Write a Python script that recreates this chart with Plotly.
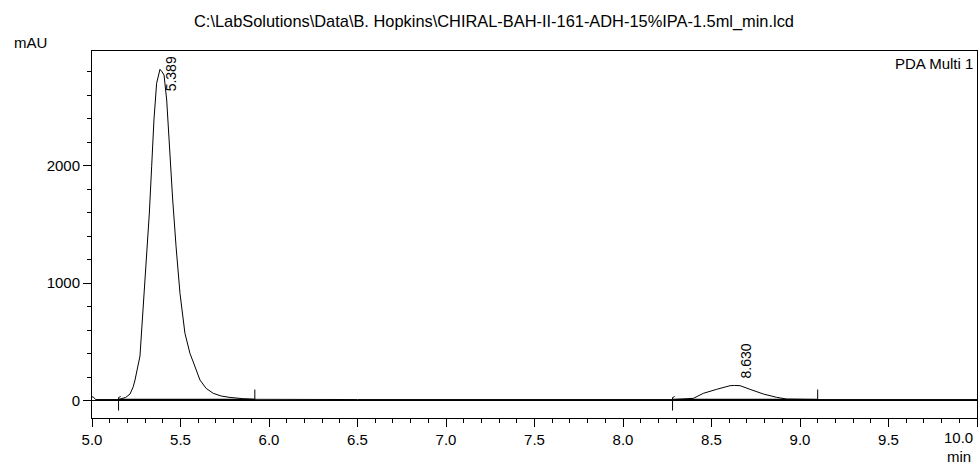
import plotly.graph_objects as go

# ---- data ----
time_min = [5.00, 5.01, 5.02, 5.10, 5.15, 5.19, 5.215, 5.233, 5.243, 5.271, 5.29, 5.309,
            5.324, 5.337, 5.35, 5.365, 5.384, 5.395, 5.407, 5.422, 5.437, 5.456, 5.475,
            5.497, 5.525, 5.554, 5.572, 5.61, 5.645, 5.685, 5.73, 5.78, 5.85, 5.92,
            6.50, 7.50, 8.28, 8.397, 8.454, 8.529, 8.605, 8.63, 8.661, 8.718, 8.793,
            8.868, 8.925, 9.10, 10.00]
absorbance = [35, 28, 10, 8, 10, 28, 57, 119, 176, 380, 800, 1197,
              1597, 1991, 2389, 2701, 2820, 2800, 2772, 2559, 2162, 1708, 1311,
              914, 574, 400, 330, 176, 105, 63, 40, 28, 18, 12,
              10, 10, 10, 20, 63, 97, 128, 130, 128, 97, 57,
              29, 14, 10, 10]

peak_rt = [5.389, 8.630]
peak_height = [2820, 130]
peak_labels = ["5.389", "8.630"]
peak_start = [5.15, 8.28]
peak_end = [5.92, 9.10]
baseline_level = [10, 10]

x_tick_vals = [5.0, 5.5, 6.0, 6.5, 7.0, 7.5, 8.0, 8.5, 9.0, 9.5, 10.0]
x_tick_text = ["5.0", "5.5", "6.0", "6.5", "7.0", "7.5", "8.0", "8.5", "9.0", "9.5", "10.0"]
y_tick_vals = [0, 1000, 2000]
y_tick_text = ["0", "1000", "2000"]

title_text = "C:\\LabSolutions\\Data\\B. Hopkins\\CHIRAL-BAH-II-161-ADH-15%IPA-1.5ml_min.lcd"
channel_text = "PDA Multi 1"
x_range = [5.0, 10.0]
y_range = [-147, 2976]

FONT = "Liberation Sans, Arial, sans-serif"

fig = go.Figure()

# chromatogram trace
fig.add_trace(go.Scatter(x=time_min, y=absorbance, mode="lines",
                         line=dict(color="black", width=1), hoverinfo="skip",
                         showlegend=False))

# integration baselines
for s, e, b in zip(peak_start, peak_end, baseline_level):
    fig.add_trace(go.Scatter(x=[s, e], y=[b, b], mode="lines",
                             line=dict(color="black", width=1.5),
                             showlegend=False, hoverinfo="skip"))

shapes = []
# start / end markers (pixel-sized ticks anchored at baseline)
for s, b in zip(peak_start, baseline_level):
    shapes.append(dict(type="line", xref="x", yref="y", ysizemode="pixel",
                       yanchor=b, x0=s, x1=s, y0=2, y1=-11,
                       line=dict(color="black", width=1)))
    shapes.append(dict(type="line", xref="x", yref="y", ysizemode="pixel",
                       yanchor=b, x0=s, x1=s + 0.012, y0=2, y1=3,
                       line=dict(color="black", width=1)))
for e, b in zip(peak_end, baseline_level):
    shapes.append(dict(type="line", xref="x", yref="y", ysizemode="pixel",
                       yanchor=b, x0=e, x1=e, y0=-1, y1=10,
                       line=dict(color="black", width=1)))

annotations = []
for rt, h, lab in zip(peak_rt, peak_height, peak_labels):
    if h > 2500:
        annotations.append(dict(x=rt, y=1, xref="x", yref="paper", text=lab,
                                textangle=-90, showarrow=False, xanchor="center",
                                yanchor="top", xshift=10, yshift=-3,
                                font=dict(family=FONT, size=14, color="black")))
    else:
        annotations.append(dict(x=rt, y=h, xref="x", yref="y", text=lab,
                                textangle=-90, showarrow=False, xanchor="center",
                                yanchor="bottom", xshift=11, yshift=5,
                                font=dict(family=FONT, size=14, color="black")))

# last x tick label is drawn pulled inside the window, as in the reference
annotations.append(dict(x=x_tick_vals[-1], y=-0.0518, xref="x", yref="paper",
                        text=x_tick_text[-1], showarrow=False, xanchor="right",
                        yanchor="middle", xshift=-2,
                        font=dict(family=FONT, size=15, color="black")))
x_tick_shown = x_tick_text[:-1] + [""]

annotations += [
    dict(x=-0.0904, y=1.0245, xref="paper", yref="paper", text="mAU",
         showarrow=False, xanchor="left", yanchor="middle",
         font=dict(family=FONT, size=15, color="black")),
    dict(x=0.9955, y=-0.106, xref="paper", yref="paper", text="min",
         showarrow=False, xanchor="right", yanchor="middle",
         font=dict(family=FONT, size=15, color="black")),
    dict(x=0.9977, y=0.9646, xref="paper", yref="paper", text=channel_text,
         showarrow=False, xanchor="right", yanchor="middle",
         font=dict(family=FONT, size=15, color="black")),
]

fig.update_layout(
    width=979, height=465,
    margin=dict(l=92, r=2, t=51, b=47),
    paper_bgcolor="white", plot_bgcolor="white",
    font=dict(family=FONT, size=15, color="black"),
    title=dict(text=title_text, x=494 / 979, xanchor="center", xref="container",
               y=1 - 21 / 465, yanchor="middle", yref="container",
               font=dict(family=FONT, size=16.4, color="black")),
    shapes=shapes, annotations=annotations,
    showlegend=False,
)

fig.update_xaxes(range=x_range, tickmode="array", tickvals=x_tick_vals,
                 ticktext=x_tick_shown,
                 ticks="outside", ticklen=8, tickwidth=1, tickcolor="black",
                 showline=True, linecolor="black", linewidth=1, mirror=True,
                 showgrid=False, zeroline=False,
                 minor=dict(dtick=0.1, tick0=5.0, ticks="outside", ticklen=4,
                            tickcolor="black", showgrid=False),
                 tickfont=dict(family=FONT, size=15, color="black"))
fig.update_yaxes(range=y_range, tickmode="array", tickvals=y_tick_vals,
                 ticktext=y_tick_text,
                 ticks="outside", ticklen=8, tickwidth=1, tickcolor="black",
                 showline=True, linecolor="black", linewidth=1, mirror=True,
                 showgrid=False, zeroline=True, zerolinecolor="black", zerolinewidth=1,
                 minor=dict(dtick=200, tick0=0, ticks="outside", ticklen=4,
                            tickcolor="black", showgrid=False),
                 tickfont=dict(family=FONT, size=15, color="black"))

fig.write_html("out.html", config={"displayModeBar": False},
               post_script="document.body.style.margin='0';document.body.style.padding='0';")
